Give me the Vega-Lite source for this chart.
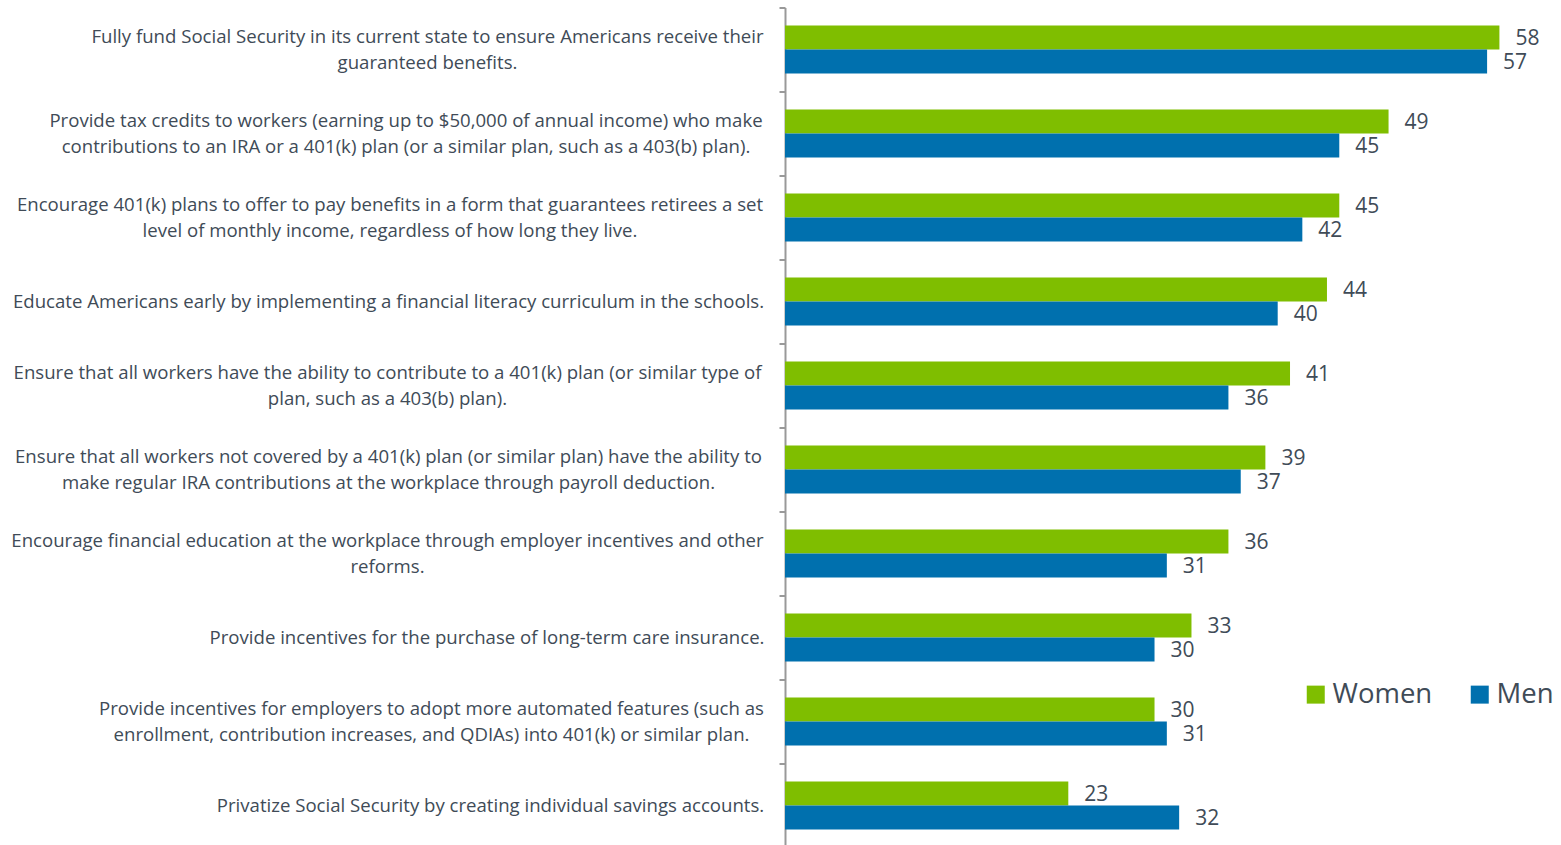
{
  "$schema": "https://vega.github.io/schema/vega-lite/v6.json",
  "autosize": "none",
  "padding": {"left": 785, "top": 7.5, "right": 0, "bottom": 0},
  "width": 776,
  "height": 840,
  "background": "white",
  "config": {"view": {"stroke": null}, "font": "Open Sans"},
  "data": {"values": [
    {"q": "Fully fund Social Security in its current state to ensure Americans receive their|guaranteed benefits.", "gender": "Women", "pct": 58},
    {"q": "Fully fund Social Security in its current state to ensure Americans receive their|guaranteed benefits.", "gender": "Men", "pct": 57},
    {"q": "Provide tax credits to workers (earning up to $50,000 of annual income) who make|contributions to an IRA or a 401(k) plan (or a similar plan, such as a 403(b) plan).", "gender": "Women", "pct": 49},
    {"q": "Provide tax credits to workers (earning up to $50,000 of annual income) who make|contributions to an IRA or a 401(k) plan (or a similar plan, such as a 403(b) plan).", "gender": "Men", "pct": 45},
    {"q": "Encourage 401(k) plans to offer to pay benefits in a form that guarantees retirees a set|level of monthly income, regardless of how long they live.", "gender": "Women", "pct": 45},
    {"q": "Encourage 401(k) plans to offer to pay benefits in a form that guarantees retirees a set|level of monthly income, regardless of how long they live.", "gender": "Men", "pct": 42},
    {"q": "Educate Americans early by implementing a financial literacy curriculum in the schools.", "gender": "Women", "pct": 44},
    {"q": "Educate Americans early by implementing a financial literacy curriculum in the schools.", "gender": "Men", "pct": 40},
    {"q": "Ensure that all workers have the ability to contribute to a 401(k) plan (or similar type of|plan, such as a 403(b) plan).", "gender": "Women", "pct": 41},
    {"q": "Ensure that all workers have the ability to contribute to a 401(k) plan (or similar type of|plan, such as a 403(b) plan).", "gender": "Men", "pct": 36},
    {"q": "Ensure that all workers not covered by a 401(k) plan (or similar plan) have the ability to|make regular IRA contributions at the workplace through payroll deduction.", "gender": "Women", "pct": 39},
    {"q": "Ensure that all workers not covered by a 401(k) plan (or similar plan) have the ability to|make regular IRA contributions at the workplace through payroll deduction.", "gender": "Men", "pct": 37},
    {"q": "Encourage financial education at the workplace through employer incentives and other|reforms.", "gender": "Women", "pct": 36},
    {"q": "Encourage financial education at the workplace through employer incentives and other|reforms.", "gender": "Men", "pct": 31},
    {"q": "Provide incentives for the purchase of long-term care insurance.", "gender": "Women", "pct": 33},
    {"q": "Provide incentives for the purchase of long-term care insurance.", "gender": "Men", "pct": 30},
    {"q": "Provide incentives for employers to adopt more automated features (such as|enrollment, contribution increases, and QDIAs) into 401(k) or similar plan.", "gender": "Women", "pct": 30},
    {"q": "Provide incentives for employers to adopt more automated features (such as|enrollment, contribution increases, and QDIAs) into 401(k) or similar plan.", "gender": "Men", "pct": 31},
    {"q": "Privatize Social Security by creating individual savings accounts.", "gender": "Women", "pct": 23},
    {"q": "Privatize Social Security by creating individual savings accounts.", "gender": "Men", "pct": 32}
  ]},
  "encoding": {
    "y": {
      "field": "q", "type": "nominal", "sort": null,
      "scale": {"paddingInner": 0, "paddingOuter": 0},
      "axis": {
        "title": null,
        "domainColor": "#999999", "domainWidth": 2,
        "tickColor": "#999999", "tickWidth": 2, "tickSize": 6, "tickBand": "extent",
        "labelFont": "Open Sans", "labelFontSize": 18.6, "labelColor": "#404b57",
        "labelLimit": 1000, "labelLineHeight": 26, "labelAlign": "center",
        "labelExpr": "split(datum.label, '|')",
        "labelOffset": {"condition": {"test": "test(/[|]/, datum.value)", "value": -13}, "value": 0},
        "labelPadding": {"condition": [
            {"test": "test(/^Fully fund/, datum.value)", "value": 352},
            {"test": "test(/^Provide tax/, datum.value)", "value": 373.5},
            {"test": "test(/^Encourage 401/, datum.value)", "value": 389.5},
            {"test": "test(/^Educate/, datum.value)", "value": 391},
            {"test": "test(/^Ensure that all workers have/, datum.value)", "value": 392},
            {"test": "test(/^Ensure that all workers not/, datum.value)", "value": 391},
            {"test": "test(/^Encourage financial/, datum.value)", "value": 392},
            {"test": "test(/^Provide incentives for the/, datum.value)", "value": 292.5},
            {"test": "test(/^Provide incentives for employers/, datum.value)", "value": 348},
            {"test": "test(/^Privatize/, datum.value)", "value": 289}
          ], "value": 15}
      }
    },
    "yOffset": {"field": "gender", "type": "nominal", "scale": {"domain": ["Women", "Men"], "paddingInner": 0, "paddingOuter": 0.75}},
    "x": {"field": "pct", "type": "quantitative", "scale": {"domain": [0, 63], "nice": false}, "axis": null}
  },
  "layer": [
    {
      "mark": {"type": "bar"},
      "encoding": {
        "color": {
          "field": "gender", "type": "nominal",
          "scale": {"domain": ["Women", "Men"], "range": ["#7fbe00", "#0070ae"]},
          "legend": {
            "title": null, "orient": "none", "direction": "horizontal",
            "legendX": 517, "legendY": 673, "padding": 0,
            "symbolType": "square", "symbolSize": 324, "symbolStrokeWidth": 0,
            "labelFont": "Open Sans", "labelFontSize": 27.5, "labelColor": "#404b57",
            "labelOffset": 3, "columnPadding": 33
          }
        }
      }
    },
    {
      "mark": {"type": "text", "align": "left", "baseline": "middle", "dx": 16, "dy": 1.5, "fontSize": 21, "font": "Open Sans", "color": "#404b57"},
      "encoding": {"text": {"field": "pct", "type": "quantitative"}}
    }
  ]
}
